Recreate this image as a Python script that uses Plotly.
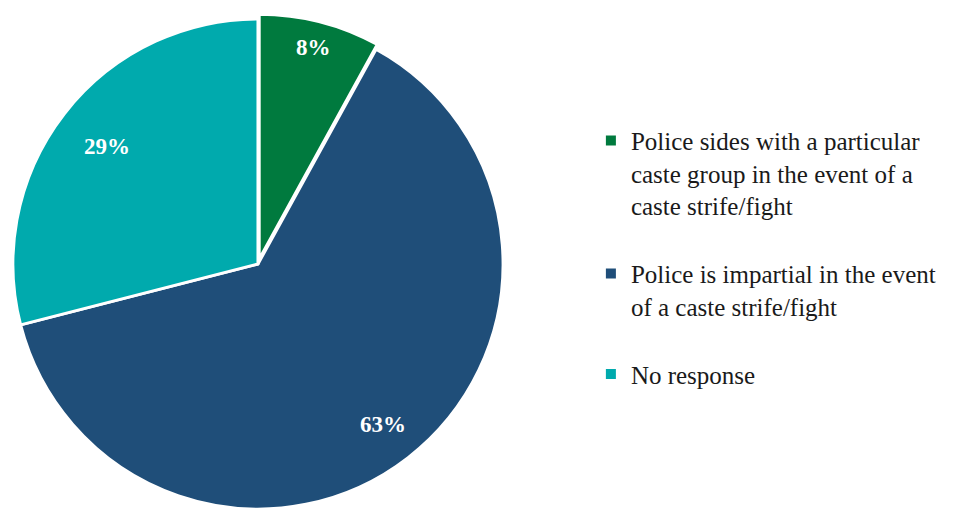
import math
import plotly.graph_objects as go

labels = [
    "Police sides with a particular<br>caste group in the event of a<br>caste strife/fight<br> ",
    "Police is impartial in the event<br>of a caste strife/fight<br> ",
    "No response",
]
values = [8, 63, 29]
colors = ["#007A3E", "#1F4E79", "#00AAAD"]
pulls = [0.02, 0, 0]
label_radius = [0.89, 0.83, 0.78]

W, H = 978, 515
dom_x = [0.0, 0.5112]
dom_y = [0.006, 1.0]
SERIF = "Liberation Serif, Times New Roman, serif"

fig = go.Figure(go.Pie(
    labels=labels,
    values=values,
    sort=False,
    direction="clockwise",
    rotation=0,
    pull=pulls,
    marker=dict(colors=colors, line=dict(color="white", width=3)),
    textinfo="none",
    domain=dict(x=dom_x, y=dom_y),
    hoverinfo="label+percent",
))

# percentage labels placed along each slice's mid-angle
wpx = (dom_x[1] - dom_x[0]) * W
hpx = (dom_y[1] - dom_y[0]) * H
rpx = min(wpx, hpx) / 2 / (1 + max(pulls))
cxp = (dom_x[0] + dom_x[1]) / 2 * W
cyp = (dom_y[0] + dom_y[1]) / 2 * H
total = sum(values)
cum = 0
for v, rf, pl in zip(values, label_radius, pulls):
    mid = (cum + v / 2) / total * 2 * math.pi
    cum += v
    dist = (rf + pl) * rpx
    px = cxp + dist * math.sin(mid)
    py = cyp + dist * math.cos(mid)
    fig.add_annotation(
        x=px / W, y=py / H, xref="paper", yref="paper",
        xanchor="center", yanchor="middle",
        text=f"<b>{round(v / total * 100)}%</b>", showarrow=False,
        font=dict(family=SERIF, size=23, color="white"),
    )

fig.update_layout(
    width=W,
    height=H,
    margin=dict(l=0, r=0, t=0, b=0),
    paper_bgcolor="white",
    plot_bgcolor="white",
    showlegend=True,
    legend=dict(
        x=0.596, y=0.516, xanchor="left", yanchor="middle",
        font=dict(family=SERIF, size=25, color="#1a1a1a"),
        valign="top",
        itemsizing="constant",
    ),
)

fig.write_html("out.html")
